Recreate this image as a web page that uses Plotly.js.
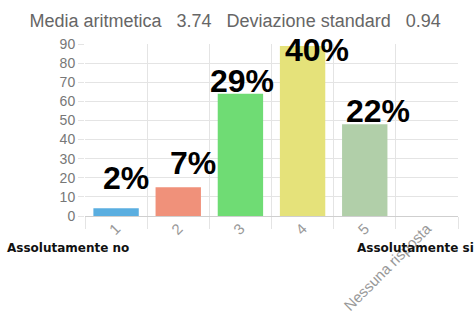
<!DOCTYPE html>
<html>
<head>
<meta charset="utf-8">
<script src="https://cdn.plot.ly/plotly-3.0.1.min.js"></script>
<style>html,body{margin:0;padding:0;background:#fff;}#chart{width:475px;height:322px;}</style>
</head>
<body>
<div id="chart"></div>
<script>
var categories = ["1", "2", "3", "4", "5", "Nessuna risposta"];
var counts = [4, 15, 64, 89, 48, 0];
var percentLabels = ["2%", "7%", "29%", "40%", "22%", ""];
var barColors = ["#5aaee0", "#f0917a", "#6fdc74", "#e5e27a", "#b1cfa9", "#cccccc"];
var yTicks = [0, 10, 20, 30, 40, 50, 60, 70, 80, 90];
var mean = "3.74";
var stdDev = "0.94";
var scaleLow = "Assolutamente no";
var scaleHigh = "Assolutamente si";

// label placement tweaks (pixels), layout only
var labelXShift = [10, 15, 2, 14, 13, 0];
var labelYShift = [10, 4, -7, -24, -7, 0];

var annotations = [];
for (var i = 0; i < categories.length; i++) {
  if (!percentLabels[i]) continue;
  annotations.push({
    x: i, y: counts[i], xref: 'x', yref: 'y',
    text: '<b>' + percentLabels[i] + '</b>', showarrow: false,
    yanchor: 'bottom', xanchor: 'center',
    xshift: labelXShift[i], yshift: labelYShift[i],
    font: {family: 'Liberation Sans, Arial, sans-serif', size: 32, color: '#000'}
  });
}
annotations.push({
  xref: 'paper', yref: 'paper', x: -0.215, y: -0.187, xanchor: 'left', yanchor: 'middle',
  text: '<b>' + scaleLow + '</b>', showarrow: false,
  font: {family: 'DejaVu Sans, sans-serif', size: 12, color: '#111'}
});
annotations.push({
  xref: 'paper', yref: 'paper', x: 1.047, y: -0.187, xanchor: 'right', yanchor: 'middle',
  text: '<b>' + scaleHigh + '</b>', showarrow: false,
  font: {family: 'DejaVu Sans, sans-serif', size: 12, color: '#111'}
});

var trace = {
  type: 'bar',
  x: categories,
  y: counts,
  marker: {color: barColors},
  hoverinfo: 'none'
};

var gap = '\u00a0\u00a0\u00a0';
var layout = {
  width: 475, height: 322,
  margin: {l: 85, r: 17, t: 44, b: 106},
  paper_bgcolor: '#fff', plot_bgcolor: '#fff',
  bargap: 0.27,
  showlegend: false,
  title: {
    text: 'Media aritmetica' + gap + mean + gap + 'Deviazione standard' + gap + stdDev,
    x: 0.495, xanchor: 'center', y: 0.937, yanchor: 'middle',
    font: {family: 'Liberation Sans, Arial, sans-serif', size: 18, color: '#666'}
  },
  xaxis: {
    type: 'category',
    tickson: 'boundaries',
    showgrid: true, gridcolor: '#e4e4e4', gridwidth: 1,
    ticks: 'outside', ticklen: 12, tickcolor: '#e4e4e4',
    tickangle: -45,
    tickfont: {family: 'Liberation Sans, Arial, sans-serif', size: 15, color: '#999'},
    showline: false, zeroline: false,
    fixedrange: true
  },
  yaxis: {
    range: [0, 90],
    tickvals: yTicks,
    showgrid: true, gridcolor: '#e4e4e4', gridwidth: 1,
    ticks: 'outside', ticklen: 6, tickcolor: '#e4e4e4',
    tickfont: {family: 'Liberation Sans, Arial, sans-serif', size: 14, color: '#777'},
    zeroline: true, zerolinecolor: '#cfcfcf', zerolinewidth: 1,
    showline: false,
    fixedrange: true
  },
  annotations: annotations
};

Plotly.newPlot('chart', [trace], layout, {displayModeBar: false, staticPlot: true});
</script>
</body>
</html>
